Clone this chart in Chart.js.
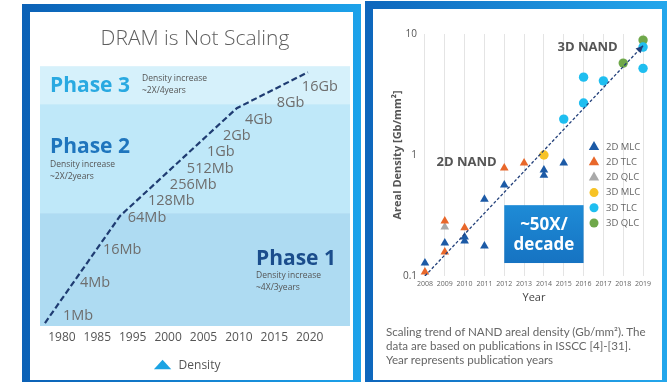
<!DOCTYPE html>
<html>
<head>
<meta charset="utf-8">
<title>DRAM and NAND density scaling</title>
<script src="https://cdn.jsdelivr.net/npm/chart.js@4/dist/chart.umd.min.js"></script>
<style>
  html, body { margin: 0; padding: 0; width: 669px; height: 382px; overflow: hidden; background: #fff; }
  .frame { position: absolute; }
  .frame .in { position: absolute; background: #fff; }
  #f1 { left: 22px; top: 4px; width: 339px; height: 384px; background: linear-gradient(90deg, #0b61b6, #1ca2ea); }
  #f1 .in { left: 8px; top: 8px; right: 8px; bottom: 8px; }
  #f2 { left: 365px; top: 1px; width: 302px; height: 387px; background: linear-gradient(90deg, #0e66bc, #24a7ec); }
  #f2 .in { left: 8px; top: 8px; right: 5px; bottom: 8px; }
  #dram { position: absolute; left: 30px; top: 12px; }
  #nand { position: absolute; left: 373px; top: 9px; }
  .caption { position: absolute; left: 386px; top: 325px; font-family: Lato, 'Open Sans', sans-serif; font-size: 11.6px; line-height: 14px; color: #666; white-space: nowrap; }
</style>
</head>
<body>
<div class="frame" id="f1"><div class="in"></div></div>
<div class="frame" id="f2"><div class="in"></div></div>
<canvas id="dram" width="323" height="370"></canvas>
<canvas id="nand" width="288" height="373"></canvas>
<div class="caption">Scaling trend of NAND areal density (Gb/mm²). The<br>data are based on publications in ISSCC [4]-[31].<br>Year represents publication years</div>

<script>
// ---------- DRAM: density trend (log2 of Mb per chip) ----------
const yearLabels = ['1980', '1985', '1995', '2000', '2005', '2010', '2015', '2020'];
// trend line: x = position on the year axis, y = log2(density in Mb)
const trendPos   = [-0.48, 1.64, 4.94, 6.95];
const trendLevel = [-0.45, 6.1, 12.7, 14.9];
// chip generations along the trend
const chipNames = ['1Mb', '4Mb', '16Mb', '64Mb', '128Mb', '256Mb', '512Mb', '1Gb', '2Gb', '4Gb', '8Gb', '16Gb'];
const chipLevel = [0, 2, 4, 6, 7, 8, 9, 10, 11, 12, 13, 14];
const chipPos   = [0.03, 0.51, 1.16, 1.86, 2.43, 3.05, 3.53, 4.10, 4.55, 5.17, 6.07, 6.78];
// scaling phases (lower / upper bounds on the log2 axis)
const phaseNames  = ['Phase 1', 'Phase 2', 'Phase 3'];
const phaseRates  = ['~4X/3years', '~2X/2years', '~2X/4years'];
const phaseBounds = [-0.63, 6.28, 12.95, 15.27];

// ---------- NAND: areal density by ISSCC year (Gb/mm²) ----------
const nandYears = ['2008', '2009', '2010', '2011', '2012', '2013', '2014', '2015', '2016', '2017', '2018', '2019'];
const densityTicks = [0.1, 1, 10];
const densityTickLabels = ['0.1', '1', '10'];
const mlc2dYear = [2008, 2009, 2010, 2010, 2011, 2011, 2012, 2014, 2014, 2015];
const mlc2dDens = [0.128, 0.187, 0.21, 0.195, 0.43, 0.177, 0.565, 0.75, 0.68, 0.86];
const tlc2dYear = [2008, 2009, 2009, 2010, 2012, 2013];
const tlc2dDens = [0.108, 0.158, 0.285, 0.25, 0.78, 0.86];
const qlc2dYear = [2009];
const qlc2dDens = [0.254];
const mlc3dYear = [2014];
const mlc3dDens = [1.0];
const tlc3dYear = [2015, 2016, 2016, 2017, 2019, 2019];
const tlc3dDens = [1.98, 2.69, 4.4, 4.1, 7.8, 5.2];
const qlc3dYear = [2018, 2019];
const qlc3dDens = [5.75, 8.9];
const fitYear = [2008, 2019];
const fitDens = [0.1, 8];
const boxYears = [2012, 2016];
const boxDens  = [0.128, 0.385];

const FONT = "'Open Sans', sans-serif";
Chart.defaults.font.family = FONT;

const pts = (xs, ys) => xs.map((x, i) => ({ x, y: ys[i] }));

// ---------- DRAM decorations: phase bands, chip labels, phase captions ----------
const phaseFill  = ['#aedbf2', '#bfe8f9', '#d6f1fb'];
const phaseColor = ['#1b4d8c', '#1f75bd', '#29a9e1'];
const dramDecor = {
  id: 'dramDecor',
  afterLayout(chart) {
    // nudge the legend item a little left of centre
    chart.legend.left -= 17;
  },
  beforeDatasetsDraw(chart) {
    const { ctx, chartArea: ca, scales: { y } } = chart;
    ctx.save();
    phaseFill.forEach((c, i) => {
      const top = y.getPixelForValue(phaseBounds[i + 1]);
      const bot = y.getPixelForValue(phaseBounds[i]);
      ctx.fillStyle = c;
      ctx.fillRect(ca.left, top, ca.right - ca.left, bot - top);
    });
    ctx.restore();
  },
  afterDatasetsDraw(chart) {
    const { ctx, chartArea: ca, scales: { x, y } } = chart;
    ctx.save();
    ctx.textBaseline = 'middle';
    ctx.textAlign = 'left';
    ctx.fillStyle = '#6e6e6e';
    ctx.font = '14.5px ' + FONT;
    chipNames.forEach((n, i) => {
      ctx.fillText(n, x.getPixelForValue(chipPos[i]), y.getPixelForValue(chipLevel[i]));
    });
    // phase captions: [title dx, title dy, note dx, note dy]
    const place = [
      [216, 193, 216, 209],
      [10, 81, 10, 98],
      [10, 20, 102, 12]
    ];
    phaseNames.forEach((n, i) => {
      const p = place[i];
      ctx.font = 'bold 21px ' + FONT;
      ctx.fillStyle = phaseColor[i];
      ctx.fillText(n, ca.left + p[0], ca.top + p[1]);
      ctx.font = '8.5px ' + FONT;
      ctx.fillStyle = '#555';
      ctx.fillText('Density increase', ca.left + p[2], ca.top + p[3]);
      ctx.fillText(phaseRates[i], ca.left + p[2], ca.top + p[3] + 12);
    });
    ctx.restore();
  }
};

new Chart(document.getElementById('dram'), {
  type: 'line',
  data: {
    datasets: [{
      label: 'Density',
      data: pts(trendPos, trendLevel),
      borderColor: '#1f3c72',
      borderWidth: 2.2,
      borderDash: [6, 3],
      backgroundColor: '#1aa3e3',
      pointRadius: 0,
      pointStyle: 'triangle',
      fill: false,
      tension: 0
    }]
  },
  options: {
    responsive: false,
    animation: false,
    layout: { padding: { left: 10, right: 3, top: 14, bottom: 0 } },
    plugins: {
      title: {
        display: true,
        text: 'DRAM is Not Scaling',
        color: '#5e5e5e',
        font: { family: FONT, size: 21, weight: 300 },
        padding: { top: 0, bottom: 15 }
      },
      legend: {
        position: 'bottom',
        labels: {
          usePointStyle: true,
          boxHeight: 9,
          pointStyleWidth: 20,
          color: '#555',
          font: { family: FONT, size: 12 },
          padding: 10,
          generateLabels: (chart) => chart.data.datasets.map((ds, i) => ({
            text: ds.label,
            fillStyle: '#1aa3e3',
            strokeStyle: '#1aa3e3',
            lineWidth: 0,
            pointStyle: 'triangle',
            fontColor: '#555',
            hidden: false,
            datasetIndex: i
          }))
        }
      },
      tooltip: { enabled: false }
    },
    scales: {
      x: {
        type: 'linear',
        min: -0.62,
        max: 8.14,
        grid: { display: false, drawTicks: false },
        border: { display: false },
        afterBuildTicks: (s) => { s.ticks = yearLabels.map((_, i) => ({ value: i })); },
        ticks: {
          callback: (v, i) => yearLabels[i],
          color: '#555',
          font: { family: FONT, size: 12 },
          padding: 4,
          maxRotation: 0,
          autoSkip: false
        },
        afterFit: (s) => { s.height = 24; }
      },
      y: { type: 'linear', display: false, min: phaseBounds[0], max: phaseBounds[3] }
    }
  },
  plugins: [dramDecor]
});

// ---------- NAND decorations: box, labels, legend, arrow ----------
function marker(ctx, style, x, y, r, color) {
  ctx.fillStyle = color;
  ctx.beginPath();
  if (style === 'triangle') {
    ctx.moveTo(x, y - r);
    ctx.lineTo(x + r * 0.866, y + r * 0.5);
    ctx.lineTo(x - r * 0.866, y + r * 0.5);
    ctx.closePath();
  } else {
    ctx.arc(x, y, r, 0, Math.PI * 2);
  }
  ctx.fill();
}

const nandDecor = {
  id: 'nandDecor',
  beforeDatasetsDraw(chart) {
    const { ctx, scales: { x, y } } = chart;
    const l = x.getPixelForValue(boxYears[0]), r = x.getPixelForValue(boxYears[1]);
    const t = y.getPixelForValue(boxDens[1]), b = y.getPixelForValue(boxDens[0]);
    ctx.save();
    const g = ctx.createLinearGradient(0, t, 0, b);
    g.addColorStop(0, '#1e8bd6');
    g.addColorStop(1, '#1673c2');
    ctx.fillStyle = g;
    ctx.fillRect(l, t, r - l, b - t);
    ctx.restore();
  },
  afterDatasetsDraw(chart) {
    const { ctx, chartArea: ca, scales: { x, y } } = chart;
    ctx.save();
    // arrow head at the end of the fit line
    const x0 = x.getPixelForValue(fitYear[0]), y0 = y.getPixelForValue(fitDens[0]);
    const x1 = x.getPixelForValue(fitYear[1]), y1 = y.getPixelForValue(fitDens[1]);
    const a = Math.atan2(y1 - y0, x1 - x0);
    ctx.fillStyle = '#23407a';
    ctx.beginPath();
    ctx.moveTo(x1, y1);
    ctx.lineTo(x1 - 8 * Math.cos(a - 0.45), y1 - 8 * Math.sin(a - 0.45));
    ctx.lineTo(x1 - 8 * Math.cos(a + 0.45), y1 - 8 * Math.sin(a + 0.45));
    ctx.closePath();
    ctx.fill();

    // era labels
    ctx.textAlign = 'center';
    ctx.textBaseline = 'middle';
    ctx.fillStyle = '#555';
    ctx.font = 'bold 13px ' + FONT;
    ctx.fillText('2D NAND', x.getPixelForValue(2010.1), y.getPixelForValue(0.87));
    ctx.fillText('3D NAND', x.getPixelForValue(2016.2), y.getPixelForValue(7.8));

    // growth rate inside the box
    const cx = x.getPixelForValue((boxYears[0] + boxYears[1]) / 2);
    const cy = (y.getPixelForValue(boxDens[0]) + y.getPixelForValue(boxDens[1])) / 2;
    ctx.fillStyle = '#fff';
    ctx.font = 'bold 17px ' + FONT;
    ctx.fillText('~50X/', cx, cy - 9);
    ctx.fillText('decade', cx, cy + 11);

    // legend
    ctx.textAlign = 'left';
    ctx.font = '9.5px ' + FONT;
    chart.data.datasets.slice(1).forEach((ds, i) => {
      const mx = ca.right - 55, my = ca.top + 113 + i * 15.2;
      marker(ctx, ds.pointStyle, mx, my, ds.pointStyle === 'triangle' ? 6 : 4.5, ds.backgroundColor);
      ctx.fillStyle = '#666';
      ctx.fillText(ds.label, mx + 12, my);
    });
    ctx.restore();
  }
};

const series = (label, xs, ys, style, color) => ({
  label, data: pts(xs, ys), pointStyle: style,
  backgroundColor: color, borderColor: color, borderWidth: 0,
  pointRadius: style === 'triangle' ? 5 : 4.7
});

new Chart(document.getElementById('nand'), {
  type: 'scatter',
  data: {
    datasets: [
      {
        type: 'line', label: 'fit', data: pts(fitYear, fitDens),
        borderColor: '#23407a', borderWidth: 1.3, borderDash: [3, 2],
        pointRadius: 0, fill: false
      },
      series('2D MLC', mlc2dYear, mlc2dDens, 'triangle', '#1c5aa6'),
      series('2D TLC', tlc2dYear, tlc2dDens, 'triangle', '#e8672a'),
      series('2D QLC', qlc2dYear, qlc2dDens, 'triangle', '#a9a9a9'),
      series('3D MLC', mlc3dYear, mlc3dDens, 'circle', '#f7c325'),
      series('3D TLC', tlc3dYear, tlc3dDens, 'circle', '#1fbef0'),
      series('3D QLC', qlc3dYear, qlc3dDens, 'circle', '#6fa84a')
    ]
  },
  options: {
    responsive: false,
    animation: false,
    layout: { padding: { left: 0, top: 25, right: 12, bottom: 70 } },
    plugins: { legend: { display: false }, tooltip: { enabled: false } },
    scales: {
      x: {
        type: 'linear',
        min: 2007.7,
        max: 2019.3,
        grid: { color: '#e4e4e4', drawTicks: false },
        border: { display: false },
        afterBuildTicks: (s) => { s.ticks = nandYears.map((v) => ({ value: +v })); },
        ticks: {
          callback: (v, i) => nandYears[i],
          color: '#666',
          font: { size: 7 },
          padding: 4,
          maxRotation: 0,
          autoSkip: false
        },
        title: { display: true, text: 'Year', color: '#444', font: { size: 11 }, padding: { top: 0, bottom: 8 } },
        afterFit: (s) => { s.height = 36; }
      },
      y: {
        type: 'logarithmic',
        min: 0.1,
        max: 10,
        grid: { display: false, drawTicks: false },
        border: { display: false },
        afterBuildTicks: (s) => { s.ticks = densityTicks.map((v) => ({ value: v })); },
        ticks: { callback: (v, i) => densityTickLabels[i], color: '#555', font: { size: 10 }, padding: 2 },
        title: { display: true, text: 'Areal Density [Gb/mm²]', color: '#555', font: { size: 11, weight: 'bold' }, padding: { top: 18, bottom: 0 } },
        afterFit: (s) => { s.width = 46; }
      }
    }
  },
  plugins: [nandDecor]
});
</script>
</body>
</html>
